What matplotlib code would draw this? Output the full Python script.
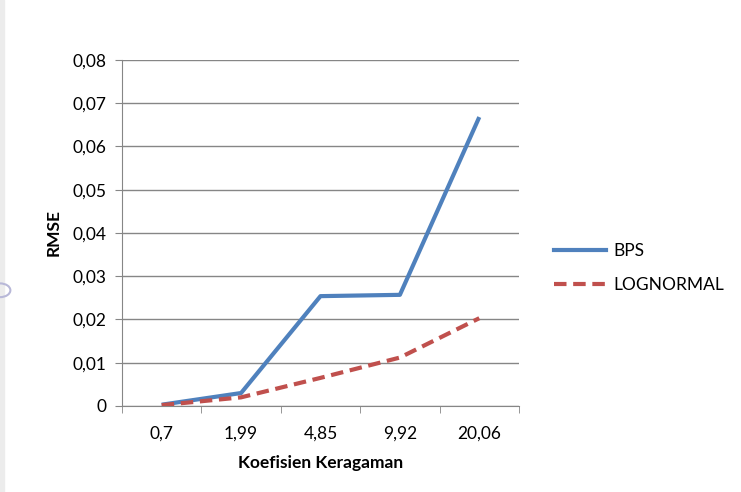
import matplotlib.pyplot as plt
from matplotlib.lines import Line2D
from matplotlib.patches import Circle

# data
kategori = ["0,7", "1,99", "4,85", "9,92", "20,06"]
bps = [0.0003, 0.003, 0.0254, 0.0257, 0.0668]
lognormal = [0.0002, 0.002, 0.0065, 0.0112, 0.0203]
yticks = [0, 0.01, 0.02, 0.03, 0.04, 0.05, 0.06, 0.07, 0.08]
ylabels = ["0", "0,01", "0,02", "0,03", "0,04", "0,05", "0,06", "0,07", "0,08"]

plt.rcParams["font.family"] = ["Lato", "DejaVu Sans"]
fs = 12.5

fig = plt.figure(figsize=(7.41, 4.92), dpi=100)
ax = fig.add_axes([0.1646, 0.1748, 0.5358, 0.7033])

x = list(range(len(kategori)))
ax.plot(x, bps, color="#4F81BD", linewidth=3, solid_capstyle="butt", zorder=3)
ax.plot(x, lognormal, color="#C0504D", linewidth=3, dashes=(3, 1.6), zorder=3)

ax.set_xlim(-0.5, len(kategori) - 0.5)
ax.set_ylim(0, 0.08)
ax.set_yticks(yticks)
ax.set_yticklabels(ylabels, fontsize=fs)
ax.set_xticks(x)
ax.set_xticklabels(kategori, fontsize=fs)
ax.set_xticks([i - 0.5 for i in range(len(kategori) + 1)], minor=True)
ax.tick_params(axis="x", which="major", length=0, pad=14)
ax.tick_params(axis="x", which="minor", length=5, color="#868686", direction="out")
ax.tick_params(axis="y", length=5, color="#868686", direction="out", pad=6)

ax.grid(axis="y", color="#868686", linewidth=1)
ax.set_axisbelow(True)
for s in ["top", "right"]:
    ax.spines[s].set_visible(False)
for s in ["left", "bottom"]:
    ax.spines[s].set_color("#868686")

ax.set_ylabel("RMSE", fontsize=fs, fontweight="bold", labelpad=8)
ax.set_xlabel("Koefisien Keragaman", fontsize=fs, fontweight="bold", labelpad=10)

handles = [
    Line2D([], [], color="#4F81BD", linewidth=3),
    Line2D([], [], color="#C0504D", linewidth=3, dashes=(3, 1.6)),
]
fig.legend(handles, ["BPS", "LOGNORMAL"], loc="center left",
           bbox_to_anchor=(0.727, 0.455), frameon=False, fontsize=fs,
           handlelength=3.0, labelspacing=1.0, handletextpad=0.4)

# grey strip and partial circle on the left edge of the screenshot
fig.patches.append(plt.Rectangle((0, 0), 0.006, 1, transform=fig.transFigure,
                                 color="#ececec", zorder=0))
fig.patches.append(Circle((0.0, 0.41), 0.014, transform=fig.transFigure,
                          fill=False, edgecolor="#b8b8d8", linewidth=1.5))

fig.savefig("out.png", dpi=100)
